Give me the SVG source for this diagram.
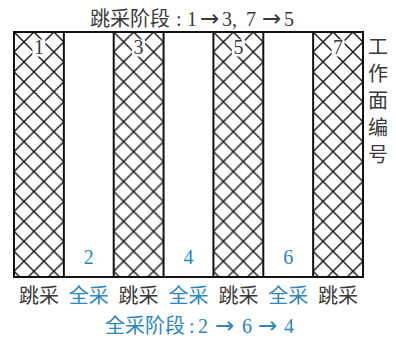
<svg xmlns="http://www.w3.org/2000/svg" width="396" height="343" viewBox="0 0 396 343">
<defs>
<pattern id="hatch" patternUnits="userSpaceOnUse" x="14" y="32" width="19.94" height="19.94">
<path d="M-2,-2 L21.94,21.94 M21.94,-2 L-2,21.94" stroke="#111" stroke-width="1.4" fill="none"/>
</pattern>
</defs>
<style>
text{font-family:"Liberation Serif","Noto Sans CJK SC",serif;}
.cjk{font-family:"Noto Sans CJK SC",sans-serif;font-size:20px}
.lat{font-size:20px}
.arr{font-family:"DejaVu Sans",sans-serif;font-size:23px}
.num{font-size:20px;text-anchor:middle}
.dark{fill:#3a3a3a}
.blue{fill:#2b86c6}
.mid{text-anchor:middle}
.col{fill:url(#hatch);stroke:#111;stroke-width:2}
.wb{fill:#fff}
</style>
<rect id="frame" x="14" y="32" width="349" height="245" fill="#fff" stroke="#111" stroke-width="2"/>
<g id="face1"><rect class="col" x="14" y="32" width="49.86" height="245"/><rect class="wb" x="32.4" y="39.5" width="13" height="17"/><text class="num dark" x="38.9" y="54">1</text></g>
<g id="face2"><text class="num blue" x="88.8" y="264">2</text></g>
<g id="face3"><rect class="col" x="113.71" y="32" width="49.86" height="245"/><rect class="wb" x="132.1" y="39.5" width="13" height="17"/><text class="num dark" x="138.6" y="54">3</text></g>
<g id="face4"><text class="num blue" x="188.5" y="264">4</text></g>
<g id="face5"><rect class="col" x="213.43" y="32" width="49.86" height="245"/><rect class="wb" x="231.9" y="39.5" width="13" height="17"/><text class="num dark" x="238.4" y="54">5</text></g>
<g id="face6"><text class="num blue" x="288.2" y="264">6</text></g>
<g id="face7"><rect class="col" x="313.14" y="32" width="49.86" height="245"/><rect class="wb" x="331.6" y="39.5" width="13" height="17"/><text class="num dark" x="338.1" y="54">7</text></g>
<g id="labels">
<text class="cjk dark mid" x="38.9" y="303">跳采</text>
<text class="cjk blue mid" x="88.8" y="303">全采</text>
<text class="cjk dark mid" x="138.6" y="303">跳采</text>
<text class="cjk blue mid" x="188.5" y="303">全采</text>
<text class="cjk dark mid" x="238.4" y="303">跳采</text>
<text class="cjk blue mid" x="288.2" y="303">全采</text>
<text class="cjk dark mid" x="338.1" y="303">跳采</text>
</g>
<g id="axis">
<text class="cjk dark mid" x="378" y="54">工</text>
<text class="cjk dark mid" x="378" y="81">作</text>
<text class="cjk dark mid" x="378" y="108">面</text>
<text class="cjk dark mid" x="378" y="135">编</text>
<text class="cjk dark mid" x="378" y="162">号</text>
</g>
<g id="title-top">
<text class="dark" y="26"><tspan class="cjk" x="90">跳采阶段</tspan><tspan class="lat" x="176">:</tspan><tspan class="lat" x="187">1</tspan><tspan class="arr" x="200">→</tspan><tspan class="lat" x="222">3,</tspan><tspan class="lat" x="246">7</tspan><tspan class="arr" x="262">→</tspan><tspan class="lat" x="284">5</tspan></text>
</g>
<g id="title-bottom">
<text class="blue" y="333"><tspan class="cjk" x="105">全采阶段</tspan><tspan class="lat" x="189">:</tspan><tspan class="lat" x="198">2</tspan><tspan class="arr" x="215">→</tspan><tspan class="lat" x="242">6</tspan><tspan class="arr" x="258">→</tspan><tspan class="lat" x="284">4</tspan></text>
</g>
</svg>
